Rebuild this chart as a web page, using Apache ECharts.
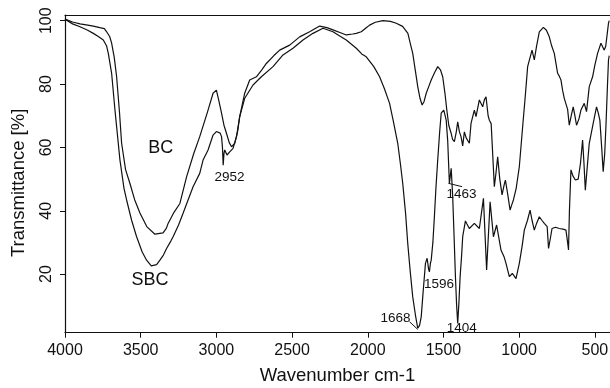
<!DOCTYPE html>
<html>
<head>
<meta charset="utf-8">
<script src="https://cdn.jsdelivr.net/npm/echarts@6/dist/echarts.min.js"></script>
<style>
  html, body { margin: 0; padding: 0; background: #fff; }
  #ftirChart { width: 610px; height: 388px; }
</style>
</head>
<body>
<div id="ftirChart"></div>
<script>
// BC spectrum: wavenumber (cm-1) and transmittance (%)
const bcWave = [4000, 3950, 3901, 3850, 3813, 3770, 3740, 3725, 3705, 3692, 3675, 3659, 3640, 3626, 3600, 3571, 3540, 3505, 3460, 3406,
  3352, 3330, 3319, 3280, 3241, 3197, 3150, 3110, 3060, 3022, 3000, 2985, 2966, 2950, 2933, 2915, 2900, 2879, 2860, 2846,
  2813, 2780, 2736, 2700, 2670, 2620, 2582, 2516, 2450, 2384, 2318, 2270, 2230, 2180, 2142, 2100, 2076, 2043, 2010, 1988,
  1950, 1900, 1850, 1812, 1770, 1735, 1715, 1703, 1685, 1670, 1655, 1641, 1628, 1614, 1595, 1581, 1560, 1538, 1520, 1505,
  1490, 1478, 1465, 1449, 1440, 1428, 1415, 1406, 1395, 1384, 1373, 1362, 1350, 1340, 1329, 1318, 1296, 1285, 1263, 1241,
  1230, 1219, 1205, 1197, 1185, 1164, 1153, 1142, 1128, 1113, 1100, 1091, 1075, 1060, 1048, 1038, 1020, 999, 977, 960,
  944, 930, 915, 900, 885, 867, 840, 820, 801, 785, 768, 746, 735, 724, 713, 702, 690, 680, 669, 656,
  643, 632, 621, 605, 592, 570, 555, 537, 515, 500, 482, 460, 450, 438, 428, 418, 410, 405];
const bcTrans = [100.5, 99.6, 99.0, 98.6, 98.3, 97.8, 97.5, 96.5, 95.0, 92.9, 88.5, 82.3, 71, 61.3, 53, 48.6, 43.5, 39.3, 35, 32.6,
  33, 34.5, 36, 39.5, 42.3, 50.7, 58, 63.4, 71, 77.1, 78.1, 75, 70.8, 67, 64.4, 61.5, 60.2, 61.3, 65, 69.7,
  77.1, 81.3, 82.3, 84.5, 86.5, 89, 90.7, 92.3, 94.9, 96.5, 98.3, 97.8, 97.1, 96.2, 95.5, 95.8, 96, 96.5, 97.8, 98.6,
  99.5, 100, 99.8, 99.2, 98.2, 96, 92, 89.7, 84, 79.2, 75.5, 73.4, 74.5, 77.1, 79.5, 81.3, 83.5, 85.5, 84.5, 82.3,
  77, 71.8, 67, 64.4, 62.5, 61.8, 65, 68.1, 65, 63.4, 60.5, 64.9, 63, 63.4, 61.3, 67.6, 71.8, 69.7, 75, 72.8,
  75, 76, 70, 68.6, 67.5, 47.6, 52, 57, 50, 45, 48, 49.7, 45, 40.2, 42, 43.4, 47, 53.9, 66.5, 76,
  85.5, 88, 90.7, 87.6, 92, 96.5, 97.9, 97, 94.9, 92, 89.7, 83.4, 82.5, 81.3, 78, 75.5, 75, 72, 67, 70,
  72.8, 70, 67, 69, 71.8, 73.9, 71.3, 79.2, 82.3, 86, 89.7, 92.9, 92.5, 90.7, 92, 96, 99.2, 100];

// SBC spectrum
const sbcWave = [4000, 3950, 3901, 3850, 3813, 3780, 3747, 3725, 3714, 3692, 3670, 3637, 3610, 3593, 3560, 3527, 3490, 3461, 3430, 3418,
  3395, 3373, 3350, 3329, 3300, 3286, 3250, 3220, 3154, 3110, 3088, 3055, 3022, 3000, 2989, 2975, 2966, 2960, 2955, 2950,
  2945, 2930, 2912, 2890, 2867, 2846, 2813, 2758, 2703, 2626, 2560, 2494, 2428, 2362, 2296, 2230, 2180, 2142, 2076, 2040,
  2010, 1960, 1922, 1890, 1856, 1830, 1802, 1785, 1769, 1750, 1736, 1720, 1703, 1685, 1670, 1658, 1647, 1635, 1619, 1608,
  1598, 1593, 1586, 1581, 1570, 1560, 1550, 1538, 1525, 1515, 1498, 1482, 1472, 1467, 1461, 1455, 1449, 1439, 1430, 1421,
  1413, 1406, 1398, 1390, 1380, 1373, 1355, 1345, 1340, 1329, 1296, 1263, 1236, 1215, 1192, 1170, 1149, 1120, 1100, 1087,
  1065, 1045, 1021, 999, 980, 966, 945, 928, 915, 900, 885, 867, 850, 834, 815, 806, 795, 783, 760, 735,
  710, 691, 680, 674, 668, 658, 645, 629, 610, 595, 581, 572, 563, 550, 537, 511, 489, 478, 467, 455,
  445, 435, 427, 418, 410, 405];
const sbcTrans = [100.5, 99, 98.1, 97, 96, 95, 93.9, 92, 89.7, 83.4, 71.8, 56, 47, 43.4, 37, 31.8, 27, 24.4, 22.6, 22.3,
  23, 24.4, 26, 28.1, 30.5, 31.8, 35.5, 39.2, 47.6, 51.8, 56, 59.2, 63.9, 65, 65.5, 64.5, 63.4, 60, 54.4, 58,
  59.2, 57.6, 58.6, 59.7, 63.4, 69.7, 75.5, 79.7, 82.3, 85.5, 89.2, 91.3, 93.9, 96, 97.6, 96.5, 95, 93.9, 91.3, 89.5,
  88.6, 85.5, 82.3, 78.5, 73.9, 68, 61.3, 55, 48.6, 39, 29.7, 21, 12.8, 7, 2.9, 3.8, 6.5, 14, 23.4, 25,
  21.5, 20.7, 23.5, 24.4, 30, 38.1, 47, 56, 65, 70.8, 71.8, 68.6, 62, 56, 48.6, 51, 53.4, 44.4, 32, 19.2,
  10, 4.4, 11, 19.2, 26, 31.8, 36.8, 35.8, 36, 34.4, 36, 34.4, 43.9, 21.3, 42.8, 31.8, 35.5, 27.6, 25.5, 23.4,
  19.2, 20.2, 18.6, 23.4, 29, 33.9, 37, 40.2, 37, 33.9, 36, 38.1, 37, 36, 35, 28.1, 31, 34.4, 34.8, 34.4,
  34.2, 33.9, 30, 27.6, 40, 52.9, 51, 49.7, 50, 55, 62.3, 55, 46.5, 54, 61.3, 67.6, 72.8, 71, 68.6, 60,
  52.3, 58, 66.5, 78, 87.6, 89];

// tick labels
const xTicks = [4000, 3500, 3000, 2500, 2000, 1500, 1000, 500];
const yTicks = [20, 40, 60, 80, 100];

// curve names and peak annotations
const curveNames = ['BC', 'SBC'];
const peakNames = ['2952', '1668', '1596', '1404', '1463'];

const zip = (xs, ys) => xs.map((x, i) => [x, ys[i]]);

const FONT = "'Liberation Sans', Arial, Helvetica, sans-serif";
const INK = '#111';

const chart = echarts.init(document.getElementById('ftirChart'));

const textPoint = (text, coord, size) => ({
  coord: coord,
  value: text,
  label: { fontSize: size }
});

const option = {
  animation: false,
  textStyle: { fontFamily: FONT },
  grid: { left: 65, right: 0, top: 15, bottom: 55.3, outerBoundsMode: 'none', containLabel: false },
  xAxis: [
    {
      type: 'value',
      inverse: true,
      min: 400,
      max: 4000,
      name: 'Wavenumber cm-1',
      nameLocation: 'middle',
      nameGap: 34,
      nameTextStyle: { fontSize: 18.5, color: INK, fontFamily: FONT },
      axisLine: { show: true, onZero: false, lineStyle: { color: INK, width: 1.2 } },
      axisTick: { show: true, length: 5, customValues: xTicks, lineStyle: { color: INK } },
      axisLabel: { customValues: xTicks, fontSize: 16, color: INK, margin: 10, fontFamily: FONT, formatter: v => String(v) },
      splitLine: { show: false }
    },
    {
      type: 'value',
      position: 'top',
      inverse: true,
      min: 400,
      max: 4000,
      axisLine: { show: true, onZero: false, lineStyle: { color: INK, width: 1.2 } },
      axisTick: { show: false },
      axisLabel: { show: false },
      splitLine: { show: false }
    }
  ],
  yAxis: {
    type: 'value',
    min: 1.5,
    max: 101.8,
    name: 'Transmittance [%]',
    nameLocation: 'middle',
    nameGap: 37,
    nameRotate: 90,
    nameTextStyle: { fontSize: 18.5, color: INK, fontFamily: FONT, padding: [0, 18, 0, 0] },
    axisLine: { show: true, lineStyle: { color: INK, width: 1.2 } },
    axisTick: { show: true, length: 5, customValues: yTicks, lineStyle: { color: INK } },
    axisLabel: { customValues: yTicks, rotate: 90, fontSize: 16, color: INK, margin: 10, fontFamily: FONT, formatter: v => String(v) },
    splitLine: { show: false }
  },
  series: [
    {
      name: curveNames[0],
      type: 'line',
      data: zip(bcWave, bcTrans),
      showSymbol: false,
      lineStyle: { color: INK, width: 1.2 },
      markPoint: {
        symbol: 'circle',
        symbolSize: 0,
        silent: true,
        label: { show: true, position: 'inside', color: INK, fontFamily: FONT, formatter: p => p.value },
        data: [textPoint(curveNames[0], [3367, 59.7], 18)]
      }
    },
    {
      name: curveNames[1],
      type: 'line',
      data: zip(sbcWave, sbcTrans),
      showSymbol: false,
      lineStyle: { color: INK, width: 1.2 },
      markPoint: {
        symbol: 'circle',
        symbolSize: 0,
        silent: true,
        label: { show: true, position: 'inside', color: INK, fontFamily: FONT, formatter: p => p.value },
        data: [
          textPoint(curveNames[1], [3439, 18.1], 18),
          textPoint(peakNames[0], [2914, 50.7], 13.5),
          textPoint(peakNames[1], [1817, 6.1], 13.5),
          textPoint(peakNames[2], [1530, 16.8], 13.5),
          textPoint(peakNames[3], [1379, 2.95], 13.5),
          textPoint(peakNames[4], [1381, 45.3], 13.5)
        ]
      },
      markLine: {
        silent: true,
        symbol: 'none',
        label: { show: false },
        lineStyle: { color: INK, width: 1, type: 'solid' },
        data: [
          [{ coord: [1724, 4.95] }, { coord: [1670, 2.55] }],
          [{ coord: [1467, 48.65] }, { coord: [1377, 47.6] }]
        ]
      }
    }
  ]
};

chart.setOption(option);
</script>
</body>
</html>
